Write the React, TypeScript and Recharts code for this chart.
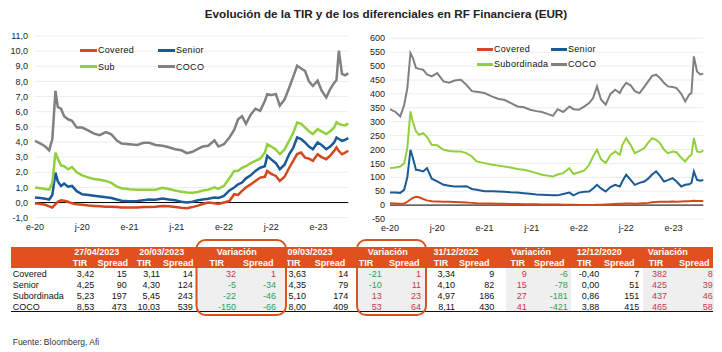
import React from 'react';
import { LineChart, Line, XAxis, YAxis, CartesianGrid, ReferenceLine } from 'recharts';

// time axis: months since January 2020
const months = [0, 0.7, 1.3, 1.8, 2.2, 2.6, 2.9, 3.3, 3.7, 4.2, 4.7, 5.3, 6, 6.8, 7.5, 8.2, 9, 9.7, 10.4, 11, 12, 13, 13.8, 14.5, 15.3, 16.2, 17, 17.8, 18.6, 19.3, 20, 20.7, 21.3, 22, 22.8, 23.3, 24, 24.7, 25.3, 25.8, 26.3, 26.8, 27.4, 28, 28.6, 29.2, 29.5, 30, 30.6, 31.1, 31.7, 32.3, 32.8, 33.3, 33.8, 34.3, 34.8, 35.3, 35.9, 36.4, 37, 37.5, 38, 38.3, 38.6, 39, 39.4, 39.8];

// TIR (%)
const coveredTir = [-0.05, -0.1, -0.15, -0.25, -0.33, -0.1, 0.05, 0.15, 0.12, 0.05,
  -0.05, -0.11, -0.15, -0.2, -0.22, -0.25, -0.28, -0.28, -0.3, -0.32,
  -0.33, -0.33, -0.3, -0.3, -0.27, -0.22, -0.25, -0.3, -0.35, -0.37,
  -0.3, -0.2, -0.1, 0.0, -0.05, -0.1, 0.0, 0.1, 0.55, 0.5,
  0.77, 0.99, 1.2, 1.43, 1.65, 1.7, 2.09, 1.9, 1.76, 1.43,
  1.7, 2.3, 2.75, 3.2, 3.3, 2.97, 2.9, 2.75, 3.19, 3.0,
  2.86, 3.1, 3.41, 3.64, 3.4, 3.19, 3.3, 3.42];
const seniorTir = [0.33, 0.3, 0.25, 0.2, 0.5, 1.98, 1.4, 1.1, 1.25, 1.05,
  1.1, 0.75, 0.55, 0.5, 0.45, 0.4, 0.35, 0.3, 0.2, 0.12,
  0.08, 0.1, 0.15, 0.2, 0.18, 0.27, 0.2, 0.15, 0.05, 0.0,
  0.05, 0.15, 0.2, 0.25, 0.33, 0.3, 0.44, 0.8, 0.99, 1.2,
  1.32, 1.6, 1.8, 2.09, 2.3, 2.4, 3.08, 2.85, 2.6, 2.2,
  2.5, 3.2, 3.6, 4.3, 4.2, 3.97, 3.7, 3.52, 3.97, 3.8,
  3.52, 3.7, 3.97, 4.3, 4.2, 4.08, 4.15, 4.25];
const subTir = [1.0, 0.95, 0.9, 0.85, 1.3, 3.3, 2.9, 2.45, 2.4, 2.2,
  2.35, 2.0, 1.8, 1.65, 1.55, 1.5, 1.43, 1.3, 1.05, 0.95,
  0.88, 0.85, 0.85, 0.85, 0.85, 0.97, 0.9, 0.8, 0.72, 0.66,
  0.65, 0.7, 0.8, 0.85, 1.0, 0.9, 1.1, 1.6, 2.09, 2.1,
  2.3, 2.4, 2.6, 2.75, 2.9, 3.3, 3.86, 3.7, 3.5, 3.19,
  3.5, 4.1, 4.6, 5.29, 5.2, 4.96, 4.7, 4.52, 4.85, 4.7,
  4.52, 4.7, 4.96, 5.3, 5.2, 5.13, 5.1, 5.23];
const cocoTir = [4.07, 3.9, 3.7, 3.45, 4.2, 7.38, 6.3, 6.2, 5.7, 5.5,
  5.4, 4.95, 4.95, 4.75, 4.55, 4.45, 4.65, 4.5, 4.1, 3.9,
  3.85, 3.8, 3.95, 3.95, 3.8, 3.75, 3.65, 3.52, 3.45, 3.26,
  3.35, 3.55, 3.7, 3.75, 4.1, 3.7, 3.85, 4.3, 4.8, 5.5,
  5.7, 5.2, 5.8, 6.2, 6.06, 6.7, 7.16, 7.1, 7.16, 6.4,
  6.8, 7.6, 8.3, 9.03, 8.85, 8.7, 8.0, 7.7, 8.05, 7.4,
  6.94, 7.5, 7.9, 8.1, 10.03, 8.5, 8.4, 8.53];

// Spreads (pb)
const coveredSpread = [7, 6, 5, 6, 12, 20, 26, 30, 28, 22,
  17, 14, 13, 12, 12, 11, 10, 9, 8, 7,
  6, 6, 5, 5, 4, 4, 3, 3, 3, 2,
  2, 2, 2, 1, 1, 1, 0, 0, 0, 0,
  1, 1, 2, 3, 4, 5, 5, 6, 6, 5,
  6, 7, 8, 10, 11, 12, 12, 12, 13, 12,
  13, 14, 14, 15, 16, 15, 15, 15];
const seniorSpread = [45, 45, 44, 55, 100, 199, 170, 127, 125, 121,
  133, 95, 85, 73, 70, 67, 67, 68, 58, 55,
  50, 50, 49, 48, 46, 45, 43, 41, 38, 37,
  36, 35, 35, 40, 45, 35, 45, 48, 49, 60,
  73, 60, 49, 65, 73, 67, 85, 109, 90, 73,
  80, 85, 95, 110, 121, 105, 85, 90, 97, 85,
  67, 73, 75, 80, 121, 91, 88, 90];
const subSpread = [133, 135, 139, 150, 205, 337, 300, 265, 253, 259,
  245, 217, 215, 199, 195, 193, 193, 187, 175, 157,
  151, 145, 142, 139, 135, 130, 127, 122, 115, 109,
  106, 103, 110, 115, 133, 112, 118, 125, 145, 175,
  199, 165, 151, 180, 193, 181, 215, 241, 215, 187,
  195, 205, 225, 241, 235, 223, 200, 187, 193, 190,
  170, 157, 175, 181, 241, 193, 190, 197];
const cocoSpread = [345, 335, 319, 360, 420, 547, 530, 493, 490, 487,
  470, 463, 475, 445, 440, 448, 451, 433, 410, 408,
  403, 390, 382, 379, 368, 355, 352, 343, 338, 335,
  328, 321, 345, 335, 355, 345, 343, 355, 367, 385,
  427, 380, 361, 400, 415, 403, 420, 440, 430, 410,
  403, 425, 445, 465, 469, 457, 440, 427, 425, 421,
  400, 373, 397, 403, 535, 481, 470, 473];

const xTickMonths = [0, 6, 12, 18, 24, 30, 36];
const xTickLabels = ['e-20', 'j-20', 'e-21', 'j-21', 'e-22', 'j-22', 'e-23'];
const tirTicks = [-1, 0, 1, 2, 3, 4, 5, 6, 7, 8, 9, 10, 11];
const spreadTicks = [-50, 0, 50, 100, 150, 200, 250, 300, 350, 400, 450, 500, 550, 600];

const tirLegend = ['Covered', 'Senior', 'Sub', 'COCO'];
const spreadLegend = ['Covered', 'Senior', 'Subordinada', 'COCO'];

// Table
const tableHeads = ['27/04/2023', '20/03/2023', 'Variación', '09/03/2023', 'Variación', '31/12/2022', 'Variación', '12/12/2020', 'Variación'];
const tableRowNames = ['Covered', 'Senior', 'Subordinada', 'COCO'];
const tableCells = [
  ['3,42', '15', '3,11', '14', '32', '1', '3,63', '14', '-21', '1', '3,34', '9', '9', '-6', '-0,40', '7', '382', '8'],
  ['4,25', '90', '4,30', '124', '-5', '-34', '4,35', '79', '-10', '11', '4,10', '82', '15', '-78', '0,00', '51', '425', '39'],
  ['5,23', '197', '5,45', '243', '-22', '-46', '5,10', '174', '13', '23', '4,97', '186', '27', '-181', '0,86', '151', '437', '46'],
  ['8,53', '473', '10,03', '539', '-150', '-66', '8,00', '409', '53', '64', '8,11', '430', '41', '-421', '3,88', '415', '465', '58'],
];

const tirData = months.map((t, i) => ({ t, covered: coveredTir[i], senior: seniorTir[i], sub: subTir[i], coco: cocoTir[i] }));
const spreadData = months.map((t, i) => ({ t, covered: coveredSpread[i], senior: seniorSpread[i], sub: subSpread[i], coco: cocoSpread[i] }));

const COLORS = ['#D2491D', '#1A5A96', '#92CF3C', '#808080'];
const KEYS = ['covered', 'senior', 'sub', 'coco'];
const FONT = '"Liberation Sans", Arial, sans-serif';
const ORANGE = '#E0511F';
const RED = '#C8374A';
const GREEN = '#2EA05A';

// layout constants (table)
const headCenter = [96.7, 161.7, 236.7, 310, 387.7, 456, 531, 599.3, 667.7];
const tirRight = [94.3, 160, 236, 306, 381.7, 455, 526.7, 599.3, 667];
const spreadRight = [126.7, 192.7, 276, 348.3, 421, 494.3, 567.7, 639.3, 712.7];
const tirHead = [80, 144, 216.7, 293.3, 366, 441, 517.7, 584.3, 656];
const spreadHead = [112.7, 178.3, 258.3, 330, 404.3, 474.3, 549.3, 619.3, 694.3];
const rowY = [274, 285, 296, 307];
const greyCols = [[196, 286], [357, 426], [506, 571], [643, 714]];

const tickStyle = { fontSize: 9, fill: '#222', fontFamily: FONT };
const fmtX = (v: number) => xTickLabels[xTickMonths.indexOf(v)] ?? '';

function LegendBox({ labels, positions, lineW }: { labels: string[]; positions: number[][]; lineW: number }) {
  return (
    <>
      {labels.map((l, i) => (
        <div key={l} style={{ position: 'absolute', left: positions[i][0], top: positions[i][1] - 6, height: 12, display: 'flex', alignItems: 'center', fontSize: 9, fontFamily: FONT, color: '#111', whiteSpace: 'nowrap' }}>
          <div style={{ width: lineW, height: 3, background: COLORS[i], marginRight: 1 }} />
          <span style={{ letterSpacing: 0.3 }}>{l}</span>
        </div>
      ))}
    </>
  );
}

function T({ x, y, align, children, color, bold, size }: any) {
  const base: any = { position: 'absolute', top: y - 6, height: 12, lineHeight: '12px', fontSize: size ?? 9, fontFamily: FONT, color: color ?? '#111', fontWeight: bold ? 700 : 400, whiteSpace: 'nowrap' };
  if (align === 'right') return <div style={{ ...base, right: 722 - x }}>{children}</div>;
  if (align === 'center') return <div style={{ ...base, left: x - 40, width: 80, textAlign: 'center' }}>{children}</div>;
  return <div style={{ ...base, left: x }}>{children}</div>;
}

const varColor = (s: string) => (s.startsWith('-') ? GREEN : RED);

export default function App() {
  return (
    <div style={{ position: 'absolute', left: 0, top: 0, width: 722, height: 352, background: '#fff', overflow: 'hidden', fontFamily: FONT }}>
      <div style={{ position: 'absolute', left: 50, top: 5, width: 672, textAlign: 'center', fontSize: 11.7, lineHeight: '18px', fontWeight: 700, color: '#222', fontFamily: FONT }}>
        Evolución de la TIR y de los diferenciales en RF Financiera (EUR)
      </div>

      <div style={{ position: 'absolute', left: 0, top: 0 }}>
        <LineChart width={360} height={240} data={tirData} margin={{ top: 36, right: 11.7, bottom: 2.3, left: 5 }}>
          <CartesianGrid vertical={false} stroke="#ECECEC" />
          <XAxis type="number" dataKey="t" domain={[0, 39.8]} ticks={xTickMonths} tickFormatter={fmtX} axisLine={false} tickLine={false} tickSize={4} tickMargin={2} height={20} tick={tickStyle} interval={0} />
          <YAxis type="number" domain={[-1, 11]} ticks={tirTicks} tickFormatter={(v: number) => v.toFixed(1).replace('.', ',')} axisLine={false} tickLine={false} width={30} tickSize={5} tickMargin={2} tick={tickStyle} interval={0} />
          <ReferenceLine y={0} stroke="#000" strokeWidth={1} />
          {KEYS.map((k, i) => (
            <Line key={k} type="linear" dataKey={k} stroke={COLORS[i]} strokeWidth={2.5} dot={false} isAnimationActive={false} />
          ))}
        </LineChart>
      </div>

      <div style={{ position: 'absolute', left: 360, top: 0 }}>
        <LineChart width={362} height={240} data={spreadData} margin={{ top: 38.3, right: 18.7, bottom: 1, left: 2 }}>
          <CartesianGrid vertical={false} stroke="#ECECEC" />
          <XAxis type="number" dataKey="t" domain={[0, 39.8]} ticks={xTickMonths} tickFormatter={fmtX} axisLine={false} tickLine={false} tickSize={4} tickMargin={2} height={20} tick={tickStyle} interval={0} />
          <YAxis type="number" domain={[-50, 600]} ticks={spreadTicks} axisLine={false} tickLine={false} width={28} tickSize={3} tickMargin={2} tick={tickStyle} interval={0} />
          <ReferenceLine y={0} stroke="#000" strokeWidth={1} />
          {KEYS.map((k, i) => (
            <Line key={k} type="linear" dataKey={k} stroke={COLORS[i]} strokeWidth={2} dot={false} isAnimationActive={false} />
          ))}
        </LineChart>
      </div>

      <LegendBox labels={tirLegend} positions={[[80, 50], [158, 50], [80, 66.7], [158, 66.7]]} lineW={17} />
      <LegendBox labels={spreadLegend} positions={[[477, 49.3], [551, 49.3], [477, 64.3], [551, 64.3]]} lineW={16} />

      {/* table */}
      <div style={{ position: 'absolute', left: 11, top: 247, width: 702, height: 21, background: ORANGE }} />
      {greyCols.map(([a, b], i) => (
        <div key={i} style={{ position: 'absolute', left: a, top: 268, width: b - a, height: 43, background: '#EFEFEF' }} />
      ))}
      <div style={{ position: 'absolute', left: 11, top: 311, width: 702, height: 1, background: '#111' }} />
      {tableHeads.map((h, i) => (
        <React.Fragment key={i}>
          <T x={headCenter[i]} y={251.7} align="center" color="#fff" bold>{h}</T>
          <T x={tirHead[i]} y={262.7} align="center" color="#fff" bold>TIR</T>
          <T x={spreadHead[i]} y={262.7} align="center" color="#fff" bold>Spread</T>
        </React.Fragment>
      ))}
      {tableRowNames.map((r, ri) => (
        <React.Fragment key={r}>
          <T x={12.7} y={rowY[ri]}>{r}</T>
          {tableHeads.map((h, gi) => {
            const isVar = h === 'Variación';
            const a = tableCells[ri][gi * 2];
            const b = tableCells[ri][gi * 2 + 1];
            return (
              <React.Fragment key={gi}>
                <T x={tirRight[gi]} y={rowY[ri]} align="right" color={isVar ? varColor(a) : '#111'}>{a}</T>
                <T x={spreadRight[gi]} y={rowY[ri]} align="right" color={isVar ? varColor(b) : '#111'}>{b}</T>
              </React.Fragment>
            );
          })}
        </React.Fragment>
      ))}
      <svg width={722} height={352} style={{ position: 'absolute', left: 0, top: 0, pointerEvents: 'none' }}>
        <rect x={196.5} y={240} width={89.5} height={75} rx={9} ry={9} fill="none" stroke="#D9531E" strokeWidth={2} />
        <rect x={357} y={240} width={69} height={75} rx={9} ry={9} fill="none" stroke="#D9531E" strokeWidth={2} />
      </svg>
      <T x={12.7} y={341.7} size={8.5} color="#333">Fuente: Bloomberg, Afi</T>
    </div>
  );
}
